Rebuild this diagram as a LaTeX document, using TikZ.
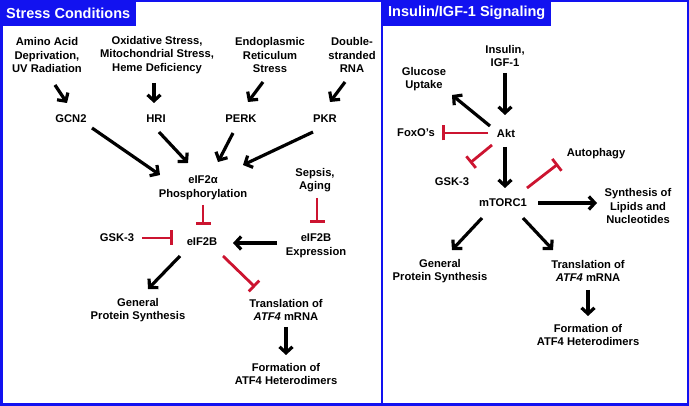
\documentclass[tikz,border=0pt]{standalone}
\usepackage{fontspec}
\setmainfont{Liberation Sans}
\usetikzlibrary{arrows.meta,calc}
\definecolor{panelblue}{RGB}{18,18,240}
\definecolor{inhred}{RGB}{204,20,48}
\tikzset{
  lbl/.style={align=center,inner sep=0pt,font=\bfseries\fontsize{11.2}{13.5}\selectfont},
  ttl/.style={fill=panelblue,text=white,anchor=north west,minimum height=26pt,inner xsep=6pt,
    font=\bfseries\fontsize{14.5}{16}\selectfont},
  act/.style={line width=3.2pt,-{Straight Barb[length=6pt,width=13pt]}},
  inh/.style={line width=2.8pt,draw=inhred,-{Bar[width=15pt]}}
}
\begin{document}
\begin{tikzpicture}[x=1pt,y=-1pt]
\useasboundingbox (0,0) rectangle (689,406);
% frame and titles
\draw[panelblue,line width=2.5pt] (1.25,1.25) rectangle (687.75,404.75);
\draw[panelblue,line width=2.5pt] (382,0) -- (382,406);
\node[ttl] (stress) at (0,0) {Stress Conditions};
\node[ttl] (insig) at (382,0) {Insulin/IGF-1 Signaling};

% stress side
\node[lbl] (amino) at (47,55) {Amino Acid\\Deprivation,\\UV Radiation};
\node[lbl] (oxid) at (157,55) {Oxidative Stress,\\Mitochondrial Stress,\\Heme Deficiency};
\node[lbl] (er) at (270,55) {Endoplasmic\\Reticulum\\Stress};
\node[lbl] (dsrna) at (352,55) {Double-\\stranded\\RNA};
\node[lbl] (gcn2) at (71,119) {GCN2};
\node[lbl] (hri) at (156,119) {HRI};
\node[lbl] (perk) at (241,119) {PERK};
\node[lbl] (pkr) at (325,119) {PKR};
\node[lbl] (eif2a) at (203,188) {eIF2α\\Phosphorylation};
\node[lbl] (sepsis) at (315,180) {Sepsis,\\Aging};
\node[lbl] (gsk) at (117,238) {GSK-3};
\node[lbl] (eif2b) at (202,242) {eIF2B};
\node[lbl] (eif2bexp) at (316,246) {eIF2B\\Expression};
\node[lbl] (gps) at (138,310) {General\\Protein Synthesis};
\node[lbl] (trans) at (286,310) {Translation of\\\textit{ATF4} mRNA};
\node[lbl] (form) at (286,374) {Formation of\\ATF4 Heterodimers};

\draw[act] ($(amino)+(8,30)$) -- ($(gcn2)+(-4,-16)$);
\draw[act] ($(oxid)+(-3,28)$) -- ($(hri)+(-2,-16)$);
\draw[act] ($(er)+(-7,27)$) -- ($(perk)+(7,-17)$);
\draw[act] ($(dsrna)+(-7,27)$) -- ($(pkr)+(5,-17)$);
\draw[act] ($(gcn2)+(21,9)$) -- ($(eif2a)+(-43,-13)$);
\draw[act] ($(hri)+(3,13)$) -- ($(eif2a)+(-15,-25)$);
\draw[act] ($(perk)+(-8,14)$) -- ($(eif2a)+(15,-26)$);
\draw[act] ($(pkr)+(-12,13)$) -- ($(eif2a)+(40,-23)$);
\draw[inh] ($(eif2a)+(0,17)$) -- ($(eif2b)+(1,-17)$);
\draw[inh] ($(sepsis)+(2,18)$) -- ($(eif2bexp)+(1,-23)$);
\draw[inh] ($(gsk)+(25,0)$) -- ($(eif2b)+(-29,-4)$);
\draw[act] ($(eif2bexp)+(-39,-3)$) -- ($(eif2b)+(31,1)$);
\draw[act] ($(eif2b)+(-22,14)$) -- ($(gps)+(10,-21)$);
\draw[inh] ($(eif2b)+(21,14)$) -- ($(trans)+(-31,-23)$);
\draw[act] ($(trans)+(0,17)$) -- ($(form)+(0,-19)$);

% insulin side
\node[lbl] (insulin) at (505,56) {Insulin,\\IGF-1};
\node[lbl] (glucose) at (424,79) {Glucose\\Uptake};
\node[lbl] (akt) at (506,133) {Akt};
\node[lbl] (foxo) at (416,133) {FoxO’s};
\node[lbl] (gskr) at (452,182) {GSK-3};
\node[lbl] (autoph) at (596,154) {Autophagy};
\node[lbl] (mtorc) at (503,203) {mTORC1};
\node[lbl] (lipids) at (638,206) {Synthesis of\\Lipids and\\Nucleotides};
\node[lbl] (gpsr) at (440,271) {General\\Protein Synthesis};
\node[lbl] (transr) at (588,271) {Translation of\\\textit{ATF4} mRNA};
\node[lbl] (formr) at (588,335) {Formation of\\ATF4 Heterodimers};

\draw[act] ($(insulin)+(0,17)$) -- ($(akt)+(-1,-18)$);
\draw[act] ($(akt)+(-16,-7)$) -- ($(glucose)+(28,16)$);
\draw[inh] ($(akt)+(-18,0)$) -- ($(foxo)+(26,0)$);
\draw[inh] ($(akt)+(-14,12)$) -- ($(gskr)+(18,-19)$);
\draw[act] ($(akt)+(-1,14)$) -- ($(mtorc)+(2,-15)$);
\draw[inh] ($(mtorc)+(24,-15)$) -- ($(autoph)+(-38,10)$);
\draw[act] ($(mtorc)+(35,0)$) -- ($(lipids)+(-41,-3)$);
\draw[act] ($(mtorc)+(-21,15)$) -- ($(gpsr)+(12,-21)$);
\draw[act] ($(mtorc)+(20,15)$) -- ($(transr)+(-35,-21)$);
\draw[act] ($(transr)+(0,19)$) -- ($(formr)+(0,-19)$);
\end{tikzpicture}
\end{document}
